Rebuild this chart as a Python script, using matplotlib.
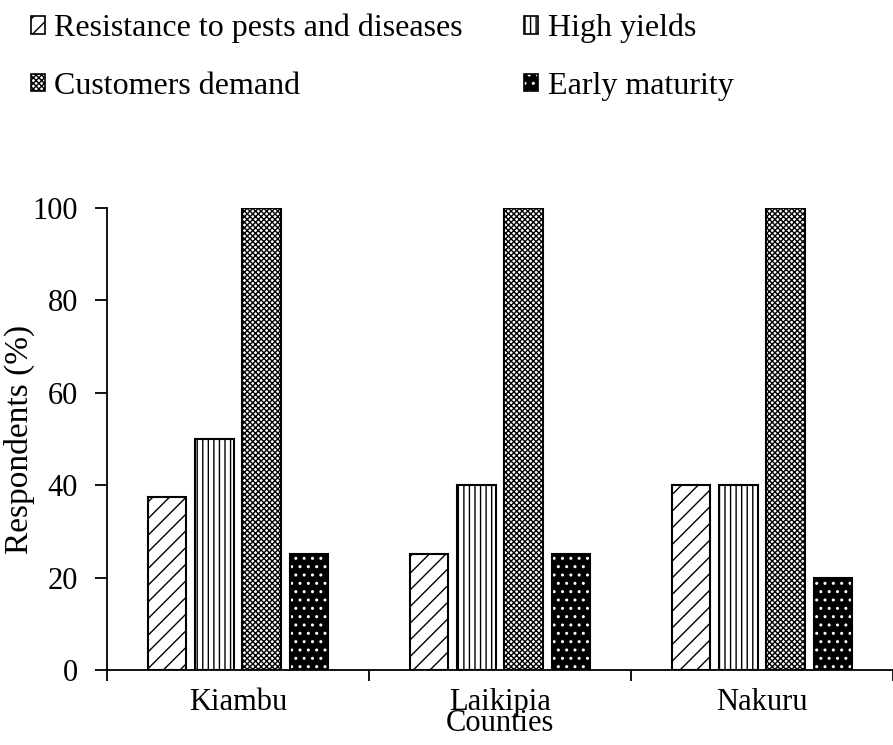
import numpy as np
import matplotlib.pyplot as plt
from matplotlib.patches import Patch

plt.rcParams['font.family'] = ['Liberation Serif', 'DejaVu Serif']
plt.rcParams['hatch.linewidth'] = 1.0

# Survey results: reasons for variety choice, per county
counties = ["Kiambu", "Laikipia", "Nakuru"]
reasons = ["Resistance to pests and diseases", "High yields",
           "Customers demand", "Early maturity"]
resistance = [37.5, 25, 40]
high_yields = [50, 40, 40]
customers_demand = [100, 100, 100]
early_maturity = [25, 25, 20]

series = [resistance, high_yields, customers_demand, early_maturity]
hatches = ["//", "|||", "xxxxxx", ".."]

fig = plt.figure(figsize=(8.93, 7.45), dpi=100)
ax = fig.add_axes([0.1198, 0.1007, 0.8802, 0.6201])

x = np.arange(len(counties))
width = 0.147
step = 0.181
handles = []
for i, (vals, h) in enumerate(zip(series, hatches)):
    pos = x + (i - 1.5) * step
    if i == 3:
        # black bars with white dots: hatch layer, then the outline
        ax.bar(pos, vals, width, color="black", edgecolor="white",
               hatch=h, linewidth=0)
        ax.bar(pos, vals, width, fill=False, edgecolor="black", linewidth=1.5)
        handles.append((Patch(facecolor="black", edgecolor="white", hatch=h, linewidth=0),
                        Patch(fill=False, edgecolor="black", linewidth=1.2)))
    else:
        ax.bar(pos, vals, width, color="white", edgecolor="black",
               hatch=h, linewidth=1.5)
        handles.append(Patch(facecolor="white", edgecolor="black",
                             hatch=h, linewidth=1.2))

ax.set_ylim(0, 100)
ax.set_xlim(-0.5, 2.466)
ax.set_yticks(np.arange(0, 101, 20))
ax.tick_params(axis="y", labelsize=22, direction="out", length=9, width=1.3, pad=12)

# group boundaries as major ticks, county names on minor ticks
ax.set_xticks([-0.5, 0.5, 1.5, 2.5])
ax.set_xticklabels([])
ax.set_xticks(x, minor=True)
ax.set_xticklabels(counties, minor=True, fontsize=22)
ax.tick_params(axis="x", which="major", direction="out", length=8, width=1.3)
ax.tick_params(axis="x", which="minor", length=0, pad=13)

for side in ["top", "right"]:
    ax.spines[side].set_visible(False)
for side in ["left", "bottom"]:
    ax.spines[side].set_linewidth(1.3)

ax.set_ylabel("Respondents (%)", fontsize=24, labelpad=-2)
ax.set_xlabel("Counties", fontsize=22, labelpad=-6)

# two legend columns, filled column by column
order = [0, 2, 1, 3]
fig.legend([handles[k] for k in order], [reasons[k] for k in order],
           loc="upper left", bbox_to_anchor=(0.002, 1.02),
           ncol=2, frameon=False, fontsize=23, handlelength=0.45,
           handleheight=0.45, handletextpad=0.3, columnspacing=1.9,
           labelspacing=0.9)

fig.savefig("out.png", dpi=100)
